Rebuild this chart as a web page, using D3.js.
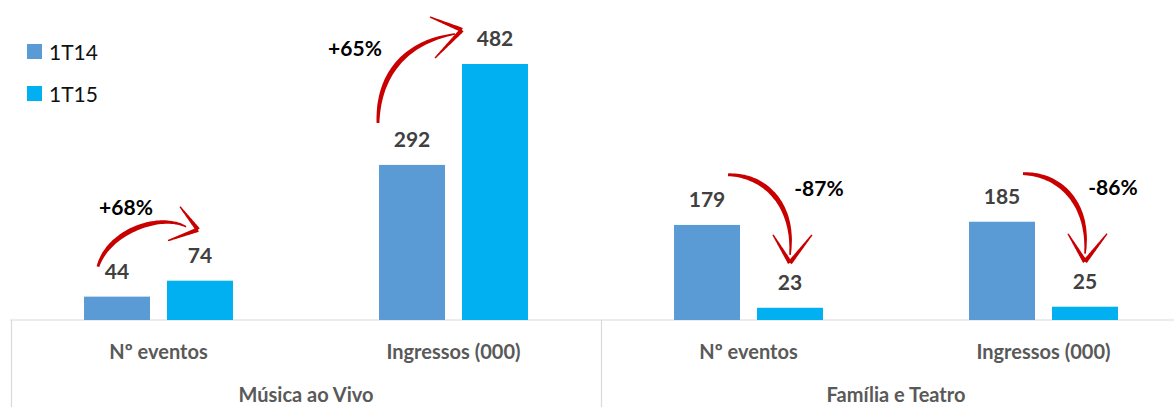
<!DOCTYPE html>
<html>
<head>
<meta charset="utf-8">
<script src="https://cdn.jsdelivr.net/npm/d3@7"></script>
<style>
  html, body { margin: 0; padding: 0; background: #fff; }
  svg { display: block; font-family: Lato, 'Open Sans', sans-serif; }
</style>
</head>
<body>
<div id="chart"></div>
<script>
var groups = ['Música ao Vivo', 'Família e Teatro'];
var metrics = ['Nº eventos', 'Ingressos (000)'];
var series = ['1T14', '1T15'];
var values1T14 = [44, 292, 179, 185];
var values1T15 = [74, 482, 23, 25];
var changes = ['+68%', '+65%', '-87%', '-86%'];

var colors = { '1T14': '#5b9bd5', '1T15': '#00b0f0' };

var width = 1174, height = 407;

var svg = d3.select('#chart')
    .append('svg')
    .attr('width', width)
    .attr('height', height);

// one entry per bar pair
var cats = [];
groups.forEach(function (g) {
    metrics.forEach(function (m) { cats.push({ group: g, metric: m, key: g + '|' + m }); });
});
cats.forEach(function (c, i) {
    c.v = [values1T14[i], values1T15[i]];
    c.change = changes[i];
});

var baseY = 320;
var x0 = d3.scaleBand().domain(cats.map(function (c) { return c.key; }))
    .range([11, 1191]).paddingInner(0).paddingOuter(0);
var xg = d3.scaleBand().domain(groups).range([11, 1191]);
var x1 = d3.scaleBand().domain(series).range([0, x0.bandwidth()])
    .paddingInner(0.205).paddingOuter(0.88);
var y = d3.scaleLinear().domain([0, 482]).range([baseY, 64]);

// axis lines
var axis = svg.append('g').attr('stroke', '#d9d9d9').attr('stroke-width', 1.2);
axis.append('line').attr('x1', 10).attr('x2', width).attr('y1', baseY).attr('y2', baseY);
groups.forEach(function (g) {
    var gx = Math.round(xg(g)) + 0.5;
    axis.append('line').attr('x1', gx).attr('x2', gx).attr('y1', baseY).attr('y2', height);
});

// bars
var cg = svg.selectAll('g.cat')
    .data(cats)
    .enter()
    .append('g')
    .attr('class', 'cat')
    .attr('transform', function (d) { return 'translate(' + x0(d.key) + ',0)'; });

cg.selectAll('rect')
    .data(function (d) { return series.map(function (s, i) { return { s: s, v: d.v[i] }; }); })
    .enter()
    .append('rect')
    .attr('x', function (d) { return x1(d.s); })
    .attr('width', x1.bandwidth())
    .attr('y', function (d) { return y(d.v); })
    .attr('height', function (d) { return baseY - y(d.v); })
    .attr('fill', function (d) { return colors[d.s]; });

cg.selectAll('text.val')
    .data(function (d) { return series.map(function (s, i) { return { s: s, v: d.v[i] }; }); })
    .enter()
    .append('text')
    .attr('class', 'val')
    .attr('x', function (d) { return x1(d.s) + x1.bandwidth() / 2; })
    .attr('y', function (d) { return y(d.v) - 18; })
    .attr('text-anchor', 'middle')
    .style('font-size', '21px')
    .style('font-weight', 'bold')
    .style('fill', '#404040')
    .text(function (d) { return d.v; });

// category labels
svg.selectAll('text.metric')
    .data(cats)
    .enter()
    .append('text')
    .attr('x', function (d) { return x0(d.key) + x0.bandwidth() / 2; })
    .attr('y', 359)
    .attr('text-anchor', 'middle')
    .style('font-size', '20px')
    .style('font-weight', 'bold')
    .style('fill', '#595959')
    .text(function (d) { return d.metric; });

svg.selectAll('text.group')
    .data(groups)
    .enter()
    .append('text')
    .attr('x', function (d) { return xg(d) + xg.bandwidth() / 2; })
    .attr('y', 402)
    .attr('text-anchor', 'middle')
    .style('font-size', '20px')
    .style('font-weight', 'bold')
    .style('fill', '#595959')
    .text(function (d) { return d; });

// legend
var leg = svg.selectAll('g.leg')
    .data(series)
    .enter()
    .append('g')
    .attr('transform', function (d, i) { return 'translate(27,' + (44 + i * 42) + ')'; });
leg.append('rect').attr('width', 15).attr('height', 15).attr('fill', function (d) { return colors[d]; });
leg.append('text').attr('x', 22).attr('y', 16)
    .style('font-size', '21px').style('fill', '#111')
    .text(function (d) { return d; });

// brush-like tapered stroke
function brush(d, wmax, profile) {
    var tmp = svg.append('path').attr('d', d).attr('fill', 'none');
    var node = tmp.node(), len = node.getTotalLength(), n = 50, pts = [];
    for (var i = 0; i <= n; i++) pts.push(node.getPointAtLength(len * i / n));
    tmp.remove();
    var left = [], right = [];
    pts.forEach(function (p, i) {
        var a = pts[Math.max(0, i - 1)], b = pts[Math.min(n, i + 1)];
        var dx = b.x - a.x, dy = b.y - a.y, l = Math.sqrt(dx * dx + dy * dy) || 1;
        var w = wmax * profile(i / n) / 2;
        left.push([p.x - dy / l * w, p.y + dx / l * w]);
        right.push([p.x + dy / l * w, p.y - dx / l * w]);
    });
    var poly = left.concat(right.reverse());
    svg.append('path')
        .attr('d', 'M' + poly.map(function (p) { return p[0].toFixed(1) + ',' + p[1].toFixed(1); }).join('L') + 'Z')
        .attr('fill', '#c80000');
}
var curveProfile = function (t) { return 0.2 + 0.8 * Math.sin(Math.PI * Math.min(1, 0.15 + t * 0.8)); };
var armProfile = function (t) { return 0.3 + 0.7 * t; };

// arrow shapes, offsets from the top of the 1T15 bar of each pair
var arrowShapes = [
    { c: [[-102, -14], [-92, -49], [-40, -68], [-14, -54]], tip: [-2, -51], arms: [[-20, -74], [-32, -40]], label: [-74, -66] },
    { c: [[-117, 59], [-117, 11], [-90, -22], [-40, -30]], tip: [-33, -34], arms: [[-65, -47], [-60, -6]], label: [-140, -8] },
    { c: [[-62, -133], [-25, -133], [5, -103], [0, -53]], tip: [0, -45], arms: [[-17, -73], [22, -73]], label: [29, -112] },
    { c: [[-62, -133], [-25, -133], [5, -103], [0, -53]], tip: [0, -45], arms: [[-17, -73], [22, -73]], label: [28, -112] }
];

cats.forEach(function (c, i) {
    var rx = x0(c.key) + x1('1T15') + x1.bandwidth() / 2;
    var ry = y(c.v[1]);
    var sh = arrowShapes[i];
    function P(o) { return (rx + o[0]) + ',' + (ry + o[1]); }
    brush('M' + P(sh.c[0]) + 'C' + P(sh.c[1]) + ' ' + P(sh.c[2]) + ' ' + P(sh.c[3]), 5, curveProfile);
    sh.arms.forEach(function (a) {
        brush('M' + P(a) + 'L' + P(sh.tip), 4.5, armProfile);
    });
    svg.append('text')
        .attr('x', rx + sh.label[0])
        .attr('y', ry + sh.label[1])
        .attr('text-anchor', 'middle')
        .style('font-size', '21px')
        .style('font-weight', 'bold')
        .style('fill', '#000')
        .text(c.change);
});
</script>
</body>
</html>
